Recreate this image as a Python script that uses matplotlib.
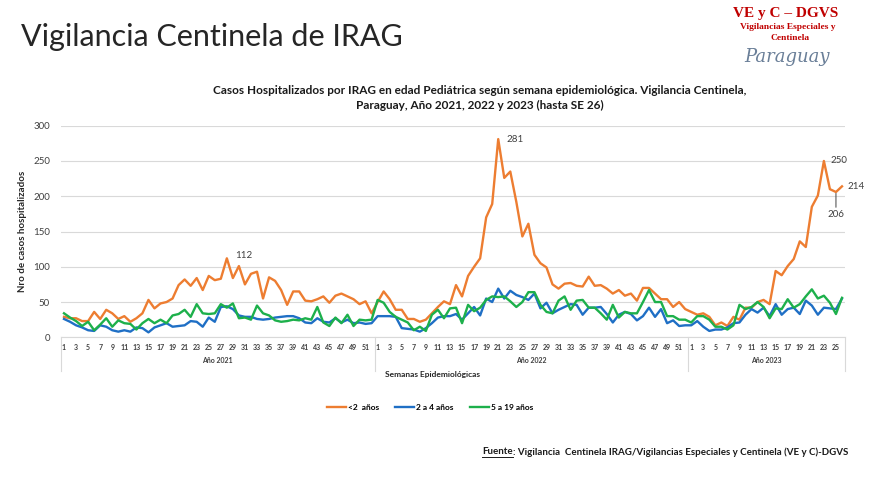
import numpy as np
import matplotlib.pyplot as plt
from matplotlib.lines import Line2D

# semanas epidemiologicas: 2021 (1-52), 2022 (1-52), 2023 (1-26)
semanas_2021 = list(range(1, 53))
semanas_2022 = list(range(1, 53))
semanas_2023 = list(range(1, 27))
semanas = semanas_2021 + semanas_2022 + semanas_2023
anios = ["Año 2021", "Año 2022", "Año 2023"]

menor2 = [29, 27, 27, 23, 23, 36, 26, 39, 34, 26, 30, 22, 27, 34, 53, 41, 48, 50, 55, 74,
          82, 73, 84, 67, 87, 81, 83, 112, 84, 101, 75, 90, 93, 55, 85, 80, 67, 46, 65, 65,
          52, 51, 54, 58, 49, 59, 62, 58, 54, 47, 51, 34,
          50, 65, 54, 39, 39, 26, 26, 22, 25, 34, 43, 51, 47, 74, 58, 87, 100, 112, 170, 189,
          281, 226, 235, 192, 143, 161, 117, 105, 99, 75, 69, 76, 77, 73, 72, 86, 73, 74, 69, 62,
          67, 59, 62, 52, 70, 70, 62, 54, 54, 43, 50, 40,
          36, 32, 34, 29, 17, 21, 16, 29, 25, 42, 42, 50, 53, 47, 94, 88, 101, 111, 136, 128,
          185, 201, 250, 210, 206, 214]
de2a4 = [26, 22, 17, 14, 10, 9, 17, 15, 10, 8, 10, 8, 14, 13, 7, 14, 17, 20, 15, 16,
         17, 23, 22, 15, 28, 22, 43, 44, 40, 31, 29, 29, 26, 25, 26, 28, 29, 30, 30, 27,
         21, 20, 27, 22, 21, 27, 21, 25, 20, 21, 19, 20,
         30, 30, 30, 29, 13, 12, 11, 8, 13, 20, 28, 30, 30, 33, 25, 34, 43, 31, 55, 50,
         69, 55, 66, 60, 57, 53, 62, 41, 49, 34, 39, 43, 47, 46, 32, 42, 42, 43, 33, 21,
         32, 36, 33, 24, 30, 42, 29, 40, 20, 24, 16, 17,
         17, 23, 15, 9, 11, 11, 14, 20, 21, 32, 40, 35, 42, 30, 47, 32, 40, 42, 33, 52,
         45, 32, 42, 41, 40, 55]
de5a19 = [34, 28, 23, 16, 22, 10, 18, 27, 15, 24, 20, 19, 11, 20, 26, 20, 25, 20, 31, 33,
          39, 29, 47, 34, 33, 34, 47, 42, 48, 27, 28, 25, 45, 34, 31, 24, 22, 23, 25, 24,
          27, 25, 43, 21, 16, 28, 20, 32, 16, 25, 24, 25,
          53, 49, 36, 29, 25, 21, 10, 15, 9, 32, 39, 27, 41, 42, 20, 46, 37, 42, 53, 58,
          57, 58, 51, 43, 50, 64, 64, 46, 36, 34, 52, 58, 39, 52, 53, 42, 42, 34, 25, 46,
          28, 36, 34, 34, 50, 67, 50, 50, 30, 30, 25, 25,
          21, 30, 30, 25, 15, 15, 11, 17, 46, 40, 43, 50, 43, 27, 41, 40, 54, 42, 47, 58,
          68, 55, 59, 49, 33, 56]

W, H = 870, 495


def fx(px):
    return px / W


def fy(py):
    return 1 - py / H


plt.rcParams['font.family'] = ['Lato', 'DejaVu Sans']
fig = plt.figure(figsize=(8.7, 4.95), dpi=100)
ax = fig.add_axes([fx(61), fy(337.3), fx(845) - fx(61), (337.3 - 125.7) / H])

x = np.arange(len(semanas))
ax.plot(x, menor2, color="#ED7D31", lw=1.7, label="<2  años", zorder=3)
ax.plot(x, de2a4, color="#1F6FC5", lw=1.7, label="2 a 4 años", zorder=3)
ax.plot(x, de5a19, color="#1DB04B", lw=1.7, label="5 a 19 años", zorder=3)

ax.set_xlim(-0.5, len(semanas) - 0.5)
ax.set_ylim(0, 300)
ax.set_yticks(np.arange(0, 301, 50))
ax.tick_params(axis="y", length=0, labelsize=7, colors="#404040", pad=8)
ax.grid(axis="y", color="#D9D9D9", lw=0.8)
ax.set_axisbelow(True)
for s in ["top", "right", "left"]:
    ax.spines[s].set_visible(False)
ax.spines["bottom"].set_color("#D9D9D9")

ax.set_xticks(x)
ax.set_xticklabels([str(s) if s % 2 == 1 else "" for s in semanas],
                   fontsize=5, fontweight="bold", color="#404040")
ax.tick_params(axis="x", length=0, pad=5)

# separadores y etiquetas de años
trans = ax.get_xaxis_transform()
cortes = [-0.5, len(semanas_2021) - 0.5,
          len(semanas_2021) + len(semanas_2022) - 0.5, len(semanas) - 0.5]
for c in cortes:
    ax.add_line(Line2D([c, c], [0, -0.16], transform=trans, color="#D9D9D9",
                       lw=0.8, clip_on=False))
for i, nombre in enumerate(anios):
    ax.text((cortes[i] + cortes[i + 1]) / 2, -0.108, nombre, transform=trans,
            ha="center", va="center", fontsize=5, fontweight="bold", color="#404040")

# etiquetas de datos
i_2021 = int(np.argmax(menor2[:52]))
ax.annotate("112", (i_2021, menor2[i_2021]), xytext=(6, 2), textcoords="offset points",
            fontsize=7, color="#404040", va="center")
i_2022 = 52 + int(np.argmax(menor2[52:104]))
ax.annotate("281", (i_2022, menor2[i_2022]), xytext=(6, 0), textcoords="offset points",
            fontsize=7, color="#404040", va="center")
n = len(menor2)
ax.annotate("250", (n - 4, menor2[n - 4]), xytext=(5, 0), textcoords="offset points",
            fontsize=7, color="#404040", va="center")
ax.annotate("214", (n - 1, menor2[n - 1]), xytext=(4, 0), textcoords="offset points",
            fontsize=7, color="#404040", va="center")
ax.annotate("206", (n - 2, menor2[n - 2]), xytext=(0, -13), textcoords="offset points",
            fontsize=7, color="#404040", ha="center", va="top",
            arrowprops=dict(arrowstyle="-", color="#404040", lw=0.7, shrinkA=0, shrinkB=1))

ax.set_ylabel("Nro de casos hospitalizados", fontsize=7, fontweight="bold",
              color="#262626", labelpad=4)
fig.text(fx(433), fy(374), "Semanas Epidemiológicas", fontsize=6, fontweight="bold",
         ha="center", va="center", color="#262626")

fig.legend(loc="center", bbox_to_anchor=(fx(430), fy(407)), ncol=3, frameon=False,
           handlelength=2.3, handletextpad=0.2, columnspacing=2.0,
           prop=dict(weight="bold", size=6))

# titulos
fig.text(fx(21), fy(37), "Vigilancia Centinela de IRAG", fontsize=22, fontweight="normal",
         ha="left", va="center", color="#262626")
fig.text(fx(480), fy(98),
         "Casos Hospitalizados por IRAG en edad Pediátrica según semana epidemiológica. Vigilancia Centinela,\n"
         "Paraguay, Año 2021, 2022 y 2023 (hasta SE 26)",
         fontsize=8.5, fontweight="bold", ha="center", va="center", color="#1a1a1a",
         linespacing=1.5)

# logo (texto)
fig.text(fx(786), fy(13), "VE y C – DGVS", family="Liberation Serif", fontsize=11,
         fontweight="bold", color="#C00000", ha="center", va="center")
fig.text(fx(788), fy(27), "Vigilancias Especiales y", family="Liberation Serif", fontsize=6.8,
         fontweight="bold", color="#C00000", ha="center", va="center")
fig.text(fx(790), fy(38), "Centinela", family="Liberation Serif", fontsize=6.8,
         fontweight="bold", color="#C00000", ha="center", va="center")
fig.text(fx(787), fy(57), "Paraguay", family="DejaVu Serif", fontsize=13, style="italic",
         fontweight="light", color="#6A7F98", ha="center", va="center")

# fuente
t_fuente = fig.text(fx(482), fy(452), "Fuente", fontsize=7, fontweight="bold",
                    ha="left", va="center", color="#1a1a1a")
fig.canvas.draw()
bb = t_fuente.get_window_extent().transformed(fig.transFigure.inverted())
fig.text(bb.x1, fy(452), ": Vigilancia  Centinela IRAG/Vigilancias Especiales y Centinela (VE y C)-DGVS",
         fontsize=7, fontweight="bold", ha="left", va="center", color="#1a1a1a")
fig.add_artist(Line2D([bb.x0, bb.x1], [bb.y0 - 0.002, bb.y0 - 0.002],
                      transform=fig.transFigure, color="#1a1a1a", lw=0.7))

fig.savefig("out.png", dpi=100)
